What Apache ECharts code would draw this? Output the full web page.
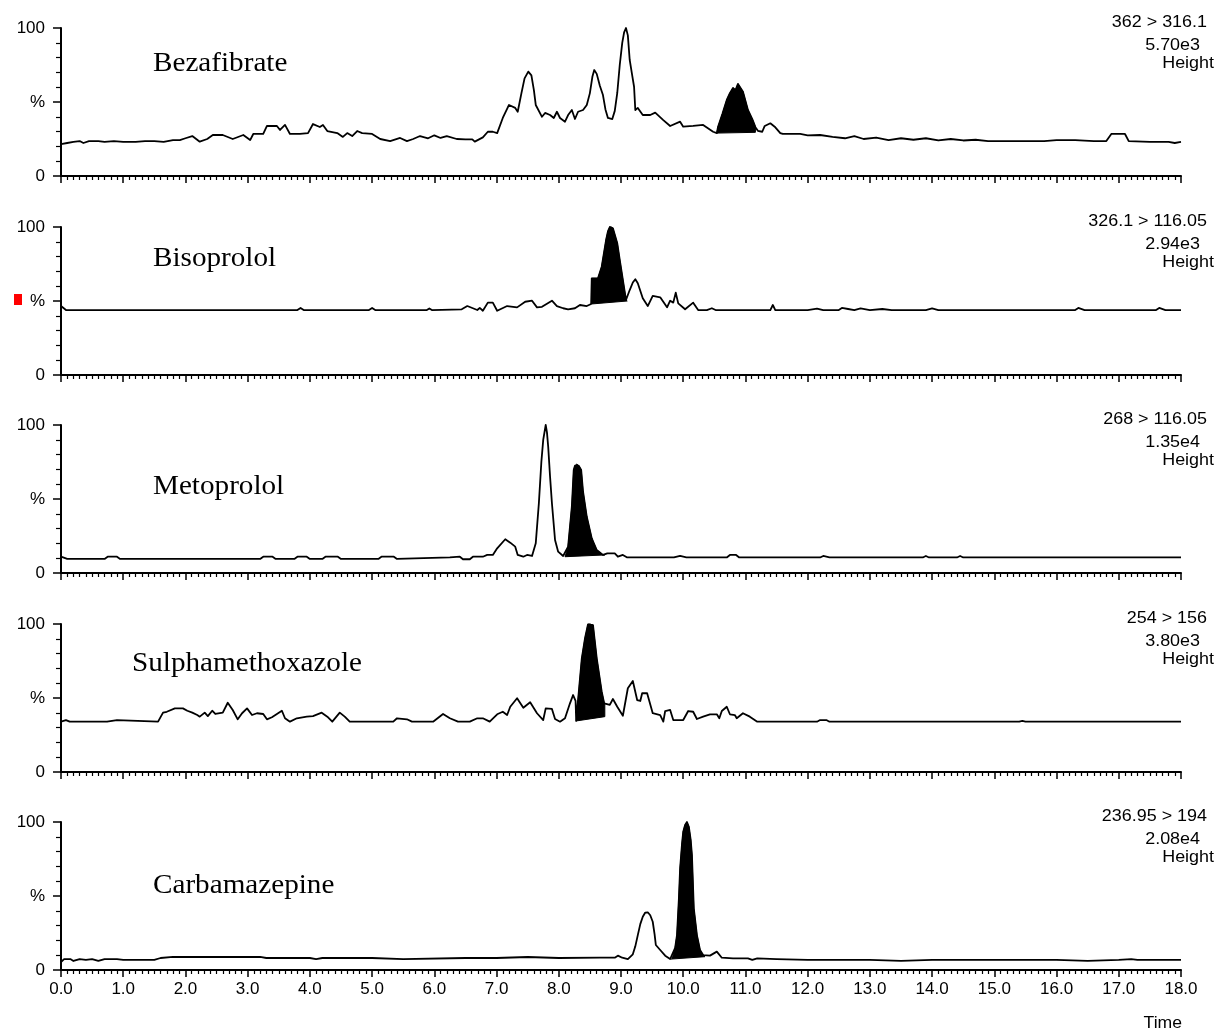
<!DOCTYPE html>
<html><head><meta charset="utf-8">
<script src="https://cdn.jsdelivr.net/npm/echarts@6/dist/echarts.min.js"></script>
<style>html,body{margin:0;padding:0;background:#fff}#c{width:1219px;height:1031px}</style>
</head><body><div id="c"></div><script>
// ---------------- DATA ----------------
const compoundNames = ['Bezafibrate', 'Bisoprolol', 'Metoprolol', 'Sulphamethoxazole', 'Carbamazepine'];
const transitions = ['362 > 316.1', '326.1 > 116.05', '268 > 116.05', '254 > 156', '236.95 > 194'];
const intensities = ['5.70e3', '2.94e3', '1.35e4', '3.80e3', '2.08e4'];
const xTickLabels = ['0.0','1.0','2.0','3.0','4.0','5.0','6.0','7.0','8.0','9.0','10.0','11.0','12.0','13.0','14.0','15.0','16.0','17.0','18.0'];

const bezTime = [0.00,0.10,0.20,0.30,0.36,0.45,0.60,0.70,0.85,1.00,1.20,1.35,1.50,1.65,1.80,1.91,2.00,2.11,2.23,2.35,2.44,2.60,2.76,2.93,3.04,3.09,3.25,3.31,3.47,3.52,3.60,3.68,3.84,3.97,4.05,4.16,4.21,4.28,4.44,4.53,4.60,4.68,4.76,4.84,5.00,5.13,5.29,5.45,5.56,5.66,5.77,5.90,6.00,6.10,6.20,6.36,6.50,6.61,6.65,6.78,6.86,6.94,7.01,7.10,7.20,7.30,7.34,7.40,7.45,7.51,7.56,7.60,7.63,7.73,7.78,7.86,7.92,7.97,8.02,8.10,8.15,8.21,8.26,8.31,8.39,8.45,8.50,8.54,8.57,8.61,8.66,8.71,8.75,8.79,8.86,8.90,8.94,8.98,9.02,9.05,9.08,9.11,9.14,9.18,9.21,9.23,9.27,9.35,9.47,9.55,9.68,9.79,9.95,10.00,10.16,10.32,10.48,10.54,10.56,10.63,10.70,10.75,10.80,10.84,10.88,10.96,11.04,11.11,11.16,11.20,11.27,11.31,11.40,11.48,11.56,11.60,11.88,12.00,12.20,12.40,12.60,12.75,12.90,13.10,13.30,13.50,13.70,13.90,14.10,14.30,14.50,14.70,14.90,15.20,15.50,15.80,16.00,16.30,16.60,16.80,16.88,17.10,17.16,17.50,17.80,17.90,18.00];
const bezPct  = [21.6,22.3,23.0,23.6,22.3,23.6,23.6,23.0,23.6,23.0,23.0,23.6,23.6,23.0,24.3,24.3,25.5,27.0,23.2,25.0,27.7,27.7,25.0,27.7,24.3,28.4,28.4,33.8,33.8,31.1,34.5,28.4,28.4,29.0,35.1,33.1,34.5,30.4,29.0,26.4,29.0,27.0,30.4,29.0,28.4,25.0,23.6,25.7,23.6,25.0,27.0,25.5,27.5,25.7,27.0,25.0,24.8,24.8,23.2,26.1,29.9,29.9,29.0,39.2,48.0,46.0,43.4,56.0,66.0,70.5,68.0,58.0,48.0,40.0,42.6,41.2,39.2,43.4,39.2,36.7,41.2,44.6,38.5,43.4,44.6,48.0,56.0,67.0,71.6,69.0,61.0,54.7,45.0,39.2,38.5,44.0,56.1,75.0,89.9,97.0,100,95.0,78.4,68.0,60.3,44.6,46.0,41.2,41.2,42.8,37.8,33.8,36.7,33.3,33.8,34.5,29.9,29.0,33.3,42.0,51.4,56.0,59.5,58.0,62.2,57.0,44.6,38.5,33.0,30.5,29.9,33.8,35.6,32.9,29.0,28.4,28.4,27.5,27.7,26.4,25.5,27.0,25.0,26.0,24.3,25.5,24.5,25.5,24.0,25.0,24.0,24.5,23.5,23.6,23.6,23.6,24.3,24.3,23.6,23.6,28.4,28.4,23.6,23.0,23.0,22.3,23.0];

const bisTime = [0.00,0.08,1.00,2.00,3.00,3.80,3.85,3.90,4.95,5.00,5.05,5.88,5.92,5.96,6.44,6.53,6.69,6.73,6.78,6.86,6.94,7.01,7.17,7.33,7.46,7.57,7.65,7.73,7.89,7.97,8.07,8.15,8.26,8.34,8.45,8.52,8.53,8.63,8.69,8.76,8.79,8.82,8.85,8.87,8.94,8.98,9.03,9.08,9.10,9.14,9.19,9.23,9.27,9.35,9.43,9.51,9.63,9.74,9.79,9.84,9.88,9.92,10.03,10.16,10.24,10.38,10.46,10.52,11.40,11.44,11.48,12.00,12.15,12.25,12.50,12.55,12.65,12.75,12.85,13.00,13.20,13.35,13.90,14.00,14.10,15.00,15.50,16.30,16.35,16.45,16.80,17.60,17.65,17.75,18.00];
const bisPct  = [46.6,43.9,43.9,43.9,43.9,43.9,45.3,43.9,43.9,45.3,43.9,43.9,45.0,43.9,44.4,46.6,43.9,45.3,43.4,48.9,48.9,43.4,46.6,45.7,49.5,50.2,45.7,46.1,50.2,46.6,45.1,44.4,45.1,47.3,46.6,48.0,65.3,65.3,73.2,91.2,97.0,100,100,99.1,89.0,77.7,64.2,50.7,50.0,57.4,62.5,64.7,62.0,51.8,46.6,53.4,52.5,45.7,50.2,48.9,55.6,48.4,44.4,48.9,43.9,43.9,45.1,43.9,43.9,47.3,43.9,43.9,44.8,43.9,43.9,45.3,44.6,43.9,45.0,43.9,44.6,43.9,43.9,45.0,43.9,43.9,43.9,43.9,45.3,43.9,43.9,43.9,45.3,43.9,43.9];

const metTime = [0.00,0.10,0.70,0.75,0.90,0.95,3.20,3.25,3.40,3.45,3.75,3.80,3.95,4.00,4.20,4.25,4.45,4.50,5.10,5.15,5.35,5.40,6.25,6.41,6.46,6.57,6.62,6.78,6.85,6.94,7.01,7.14,7.22,7.30,7.34,7.43,7.49,7.57,7.63,7.68,7.72,7.75,7.79,7.81,7.83,7.86,7.89,7.94,7.99,8.07,8.10,8.15,8.21,8.24,8.26,8.29,8.32,8.36,8.39,8.45,8.53,8.61,8.71,8.74,8.78,8.90,8.95,9.03,9.06,9.10,9.85,9.95,10.05,10.70,10.75,10.85,10.90,12.20,12.25,12.35,13.85,13.90,13.95,14.40,14.45,14.50,18.00];
const metPct  = [11.0,9.5,9.5,11.0,11.0,9.5,9.5,11.0,11.0,9.5,9.5,11.0,11.0,9.5,9.5,11.0,11.0,9.5,9.5,11.0,11.0,9.5,10.5,11.0,9.3,9.3,11.0,11.0,12.2,12.2,16.7,22.8,20.5,17.8,12.2,11.0,12.2,11.5,20.1,47.1,75.0,89.9,100,95.0,85.3,65.0,47.1,22.3,14.4,11.5,11.0,17.8,44.8,69.6,72.5,73.6,72.5,69.6,54.9,38.0,23.4,15.5,12.2,12.2,13.3,13.3,11.0,12.2,11.0,10.5,10.5,11.5,10.5,10.5,12.2,12.2,10.5,10.5,11.5,10.5,10.5,11.5,10.5,10.5,11.5,10.5,10.5];

const sulTime = [0.00,0.08,0.14,0.74,0.76,0.90,0.92,1.56,1.59,1.64,1.70,1.83,1.96,2.03,2.11,2.19,2.23,2.31,2.36,2.43,2.48,2.60,2.68,2.76,2.84,2.91,2.99,3.07,3.15,3.25,3.31,3.39,3.47,3.55,3.60,3.68,3.79,3.95,4.05,4.19,4.28,4.36,4.48,4.56,4.64,5.34,5.40,5.56,5.64,5.98,6.14,6.25,6.38,6.57,6.69,6.78,6.89,7.01,7.10,7.17,7.22,7.33,7.43,7.54,7.65,7.75,7.79,7.89,7.94,8.02,8.10,8.18,8.23,8.27,8.28,8.33,8.37,8.42,8.47,8.50,8.55,8.61,8.69,8.73,8.82,8.87,8.94,9.03,9.11,9.19,9.26,9.31,9.34,9.42,9.51,9.63,9.68,9.71,9.79,9.84,10.00,10.08,10.16,10.22,10.32,10.43,10.54,10.58,10.62,10.70,10.75,10.83,10.86,10.96,11.07,11.19,12.15,12.20,12.30,12.35,15.40,15.45,15.50,18.00];
const sulPct  = [34.0,35.1,34.0,34.0,35.1,35.1,34.0,34.0,35.1,40.1,40.7,43.0,43.0,41.4,40.1,38.5,37.4,40.1,37.8,41.4,39.2,40.1,46.8,41.9,35.6,39.7,43.0,38.5,39.7,39.2,35.6,37.0,39.2,41.4,36.3,34.0,36.3,37.4,37.8,40.1,37.4,34.0,40.1,37.4,34.0,34.0,36.3,35.6,34.0,34.0,39.2,36.3,34.0,34.0,36.3,36.3,34.0,39.0,40.7,38.5,44.1,49.8,43.4,47.1,39.7,35.1,43.0,42.6,35.8,34.0,36.3,46.4,52.0,48.0,34.5,58.0,76.8,90.0,99.8,100,99.3,76.8,54.3,46.4,45.3,49.3,44.1,38.0,56.6,61.5,48.6,48.0,53.2,53.2,39.7,38.5,34.0,41.2,41.9,35.1,35.1,41.2,40.7,35.8,37.4,39.0,39.0,36.3,41.2,44.1,39.0,38.5,36.3,39.7,37.4,34.0,34.0,35.1,35.1,34.0,34.0,34.6,34.0,34.0];

const carTime = [0.00,0.05,0.15,0.20,0.30,0.40,0.50,0.60,0.70,0.90,1.00,1.50,1.60,1.80,3.20,3.30,4.00,4.10,4.20,5.00,5.50,6.50,7.00,7.50,8.00,8.66,8.90,8.95,9.02,9.11,9.19,9.23,9.27,9.31,9.35,9.39,9.43,9.47,9.51,9.54,9.56,9.63,9.71,9.79,9.82,9.87,9.90,9.93,9.95,9.98,10.00,10.03,10.06,10.09,10.12,10.14,10.17,10.22,10.27,10.32,10.35,10.43,10.54,10.62,10.80,11.04,11.11,11.19,11.50,12.00,13.00,13.50,14.00,15.00,16.00,16.50,17.00,17.20,17.30,18.00];
const carPct  = [5.4,7.4,7.4,6.1,7.4,6.8,7.4,6.1,7.4,7.4,6.8,6.8,8.1,8.8,8.8,8.1,8.1,7.4,8.1,8.1,7.4,8.1,8.1,8.8,8.1,8.3,8.3,9.7,8.3,7.4,10.6,16.0,23.6,31.0,36.0,38.8,39.0,37.0,32.6,24.0,16.9,13.5,9.7,7.4,7.4,15.0,23.6,48.0,68.7,85.0,93.4,98.0,100,96.8,88.0,77.7,41.7,23.6,13.5,10.1,9.0,9.7,12.4,8.3,7.9,7.9,6.8,7.9,7.4,6.8,6.8,6.1,6.8,6.8,6.8,6.1,6.8,7.4,6.8,6.8];

// integrated (filled) peak windows: start time, end time, baseline % at start and end
const fillStart     = [10.54, 8.53, 8.10, 8.28, 9.81];
const fillEnd       = [11.16, 9.10, 8.74, 8.74, 10.35];
const fillBaseStart = [29.0, 48.0, 11.0, 34.5, 7.4];
const fillBaseEnd   = [29.5, 50.0, 12.2, 37.4, 9.0];

// ---------------- CHART ----------------
const traceTimes = [bezTime, bisTime, metTime, sulTime, carTime];
const tracePcts  = [bezPct, bisPct, metPct, sulPct, carPct];
const panelTops = [28, 227, 425, 624, 822];
const panelH = 148;
const FONT = "'Liberation Sans', Arial, sans-serif";

function interp(ts, vs, t) {
  for (let i = 1; i < ts.length; i++) {
    if (ts[i] >= t) {
      const a = ts[i-1], b = ts[i];
      return vs[i-1] + (vs[i]-vs[i-1]) * (t-a)/(b-a || 1);
    }
  }
  return vs[vs.length-1];
}

const grids = [], xAxes = [], yAxes = [], series = [];
panelTops.forEach((top, i) => {
  grids.push({left: 61, width: 1120, top: top, height: panelH});
  xAxes.push({
    type: 'value', gridIndex: i, min: 0, max: 18, interval: 1,
    axisLine: {show: true, onZero: false, lineStyle: {color: '#000', width: 2}},
    axisTick: {show: true, length: 7, lineStyle: {color: '#000', width: 1.5}},
    minorTick: {show: true, splitNumber: 10, length: 4, lineStyle: {color: '#000', width: 1.2}},
    splitLine: {show: false},
    axisLabel: {show: i === 4, color: '#000', fontSize: 17, fontFamily: FONT, margin: 11,
      formatter: v => xTickLabels[Math.round(v)]}
  });
  yAxes.push({
    type: 'value', gridIndex: i, min: 0, max: 100, interval: 50,
    axisLine: {show: true, lineStyle: {color: '#000', width: 2}},
    axisTick: {show: true, length: 8, lineStyle: {color: '#000', width: 1.5}},
    minorTick: {show: true, splitNumber: 5, length: 5, lineStyle: {color: '#000', width: 1.2}},
    splitLine: {show: false},
    axisLabel: {color: '#000', fontSize: 17, fontFamily: FONT, margin: 16,
      formatter: v => v === 50 ? '%' : String(v)}
  });
  const ts = traceTimes[i], vs = tracePcts[i];
  series.push({
    type: 'line', xAxisIndex: i, yAxisIndex: i,
    data: ts.map((t, k) => [t, vs[k]]),
    showSymbol: false, symbol: 'none', animation: false, silent: true,
    lineStyle: {color: '#000', width: 1.8, join: 'round'}, z: 3
  });
  // filled peak polygon
  const s = fillStart[i], e = fillEnd[i];
  const pts = [[s, fillBaseStart[i]], [s, interp(ts, vs, s)]];
  ts.forEach((t, k) => { if (t > s && t < e) pts.push([t, vs[k]]); });
  pts.push([e, interp(ts, vs, e)]);
  pts.push([e, fillBaseEnd[i]]);
  series.push({
    type: 'custom', xAxisIndex: i, yAxisIndex: i, data: pts, silent: true, animation: false,
    encode: {x: 0, y: 1}, z: 2,
    renderItem: (params, api) => {
      if (params.dataIndex !== 0) return null;
      return {type: 'polygon', shape: {points: pts.map(p => api.coord(p))},
              style: {fill: '#000', stroke: '#000', lineWidth: 1}};
    }
  });
});

const graphics = [];
const namePos = [[153, 64], [153, 259], [153, 487], [132, 664], [153, 886]];
compoundNames.forEach((n, i) => {
  graphics.push({type: 'text', x: namePos[i][0], y: namePos[i][1], scaleX: 1.08,
    style: {text: n, font: "27px 'Liberation Serif', 'Times New Roman', serif", fill: '#000',
            textAlign: 'left', textVerticalAlign: 'middle'}});
  const t = panelTops[i];
  const lines = [[transitions[i], 1207, t - 5], [intensities[i], 1200, t + 18], ['Height', 1214, t + 36]];
  lines.forEach(l => graphics.push({type: 'text', x: l[1], y: l[2], scaleX: 1.12,
    style: {text: l[0], font: "16px " + FONT, fill: '#000', textAlign: 'right', textVerticalAlign: 'middle'}}));
});
graphics.push({type: 'text', x: 1182, y: 1024, scaleX: 1.1,
  style: {text: 'Time', font: "16px " + FONT, fill: '#000', textAlign: 'right', textVerticalAlign: 'middle'}});
graphics.push({type: 'rect', shape: {x: 14, y: 294, width: 8, height: 11}, style: {fill: '#ff0000'}});

const chart = echarts.init(document.getElementById('c'), null, {renderer: 'canvas'});
chart.setOption({
  animation: false,
  backgroundColor: '#fff',
  grid: grids, xAxis: xAxes, yAxis: yAxes, series: series,
  graphic: graphics
});
</script></body></html>
